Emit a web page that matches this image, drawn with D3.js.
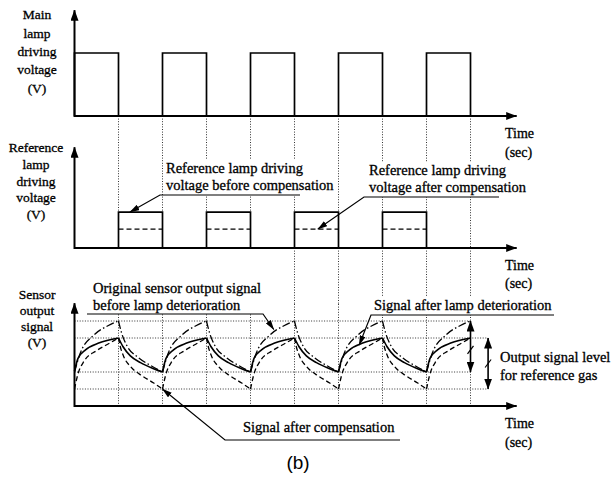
<!DOCTYPE html>
<html>
<head>
<meta charset="utf-8">
<script src="https://cdn.jsdelivr.net/npm/d3@7"></script>
<style>
  body { margin: 0; background: #fff; }
  text { font-family: "Liberation Serif", "Times New Roman", serif; fill: #000; stroke: #000; stroke-width: 0.3px; }
</style>
</head>
<body>
<script>
// time is counted in half periods of the lamp drive (one unit = lamp on or off)
var mainPulses = [[0, 1], [2, 3], [4, 5], [6, 7], [8, 9]];
var refPulses = [[1, 2], [3, 4], [5, 6], [7, 8]];
var edgeTimes = [1, 2, 3, 4, 5, 6, 7, 8, 9];
var linkedTimes = [5, 6, 7, 8, 9];      // dotted edges that run on into the sensor panel

var mainLevel = 1.0;
var refLevel = 0.57;
var refCompLevel = 0.30;

// sensor output: [time, level]
var originalSignal = [   // dash-dot
    [0, 2], [0.13, 3.1], [0.43, 4.15], [0.76, 4.72], [1, 5], [1.07, 4.3], [1.19, 3.55], [1.45, 2.85], [1.75, 2.35],
    [2, 2], [2.13, 3.1], [2.43, 4.15], [2.76, 4.72], [3, 5], [3.07, 4.3], [3.19, 3.55], [3.45, 2.85], [3.75, 2.35],
    [4, 2], [4.13, 3.1], [4.43, 4.15], [4.76, 4.72], [5, 5], [5.07, 4.3], [5.19, 3.55], [5.45, 2.85], [5.75, 2.35],
    [6, 2], [6.13, 3.1], [6.43, 4.15], [6.76, 4.72], [7, 5], [7.07, 4.3], [7.19, 3.55], [7.45, 2.85], [7.75, 2.35],
    [8, 2], [8.13, 3.1], [8.43, 4.15], [8.76, 4.72], [9, 5]
];
var deterioratedSignal = [   // solid
    [0, 2.05], [0.08, 2.8], [0.25, 3.3], [0.55, 3.7], [1, 4], [1.1, 3.5], [1.27, 2.95], [1.5, 2.55], [1.77, 2.22],
    [2, 2], [2.08, 2.8], [2.25, 3.3], [2.55, 3.7], [3, 4], [3.1, 3.5], [3.27, 2.95], [3.5, 2.55], [3.77, 2.22],
    [4, 2], [4.08, 2.8], [4.25, 3.3], [4.55, 3.7], [5, 4], [5.1, 3.5], [5.27, 2.95], [5.5, 2.55], [5.77, 2.22],
    [6, 2], [6.08, 2.8], [6.25, 3.3], [6.55, 3.7], [7, 4], [7.1, 3.5], [7.27, 2.95], [7.5, 2.55], [7.77, 2.22],
    [8, 2], [8.08, 2.8], [8.25, 3.3], [8.55, 3.7], [9, 4]
];
var compensatedSignal = [   // dashed
    [0, 1], [0.07, 1.8], [0.22, 2.65], [0.5, 3.25], [0.8, 3.7], [1, 4], [1.04, 3.5], [1.12, 2.9], [1.28, 2.3], [1.55, 1.75], [1.8, 1.35],
    [2, 1], [2.07, 1.8], [2.22, 2.65], [2.5, 3.25], [2.8, 3.7], [3, 4], [3.04, 3.5], [3.12, 2.9], [3.28, 2.3], [3.55, 1.75], [3.8, 1.35],
    [4, 1], [4.07, 1.8], [4.22, 2.65], [4.5, 3.25], [4.8, 3.7], [5, 4], [5.04, 3.5], [5.12, 2.9], [5.28, 2.3], [5.55, 1.75], [5.8, 1.35],
    [6, 1], [6.07, 1.8], [6.22, 2.65], [6.5, 3.25], [6.8, 3.7], [7, 4], [7.04, 3.5], [7.12, 2.9], [7.28, 2.3], [7.55, 1.75], [7.8, 1.35],
    [8, 1], [8.07, 1.8], [8.22, 2.65], [8.5, 3.25], [8.8, 3.7], [9, 4]
];

// dotted level lines: [level, last time]
var gridRows = [[5, 9], [4, 9.4], [2, 9], [1, 9.4]];
// output level arrows: [time, from, to, break mark]
var levelArrows = [[9, 5, 2, 3.3], [9.4, 4, 1, 2.5]];

var mainLabel = ["Main", "lamp", "driving", "voltage", "(V)"];
var refLabel = ["Reference", "lamp", "driving", "voltage", "(V)"];
var sensorLabel = ["Sensor", "output", "signal", "(V)"];
var timeLabel = ["Time", "(sec)"];

var notes = [
    {lines: ["Reference lamp driving", "voltage before compensation"], x: 166, y: 168, elbow: 160, end: 300, ly: 195, panel: "ref", tip: [1.26, refLevel]},
    {lines: ["Reference lamp driving", "voltage after compensation"], x: 369, y: 170, elbow: 364, end: 499, ly: 197, panel: "ref", tip: [5.53, refCompLevel]},
    {lines: ["Original sensor output signal", "before lamp deterioration"], x: 93, y: 288, elbow: 263, end: 87, ly: 314, panel: "sig", tip: [4.53, 4.5]},
    {lines: ["Signal after lamp deterioration"], x: 374, y: 305, elbow: 371, end: 554, ly: 315, panel: "sig", tip: [6.47, 3.59]},
    {lines: ["Signal after compensation"], x: 243, y: 427, elbow: 225, end: 400, ly: 440, panel: "sig", tip: [2, 1]}
];

var x = d3.scaleLinear().domain([0, 10]).range([74.5, 514.5]);
var yMain = d3.scaleLinear().domain([0, 1]).range([116, 53]);
var yRef = d3.scaleLinear().domain([0, 1]).range([248, 185]);
var ySig = d3.scaleLinear().domain([0, 6]).range([406, 304]);
var tEnd = 10.05;

var svg = d3.select("body").append("svg")
    .attr("width", 612)
    .attr("height", 499);

var defs = svg.append("defs");
function addHead(id, len, wid) {
    defs.append("marker")
        .attr("id", id)
        .attr("viewBox", "0 0 " + len + " " + wid)
        .attr("refX", len - 0.5)
        .attr("refY", wid / 2)
        .attr("markerUnits", "userSpaceOnUse")
        .attr("markerWidth", len)
        .attr("markerHeight", wid)
        .attr("orient", "auto-start-reverse")
        .append("path")
        .attr("d", "M0,0 L" + len + "," + (wid / 2) + " L0," + wid + " z")
        .attr("fill", "#000");
}
addHead("axisHead", 11, 8);
addHead("noteHead", 10, 6);
addHead("levelHead", 11, 8);

var dotted = {stroke: "#333", width: 1, dash: "1,1.6"};

// dotted edges between panels and sensor grid
var grid = svg.append("g");
grid.selectAll(".edge").data(edgeTimes).enter().append("line")
    .attr("x1", function (t) { return x(t); })
    .attr("x2", function (t) { return x(t); })
    .attr("y1", yMain(0))
    .attr("y2", yRef(0));
grid.selectAll(".link").data(linkedTimes).enter().append("line")
    .attr("x1", function (t) { return x(t); })
    .attr("x2", function (t) { return x(t); })
    .attr("y1", yRef(0))
    .attr("y2", ySig(6));
grid.selectAll(".vgrid").data(edgeTimes).enter().append("line")
    .attr("x1", function (t) { return x(t); })
    .attr("x2", function (t) { return x(t); })
    .attr("y1", ySig(6))
    .attr("y2", ySig(0));
grid.selectAll(".hgrid").data(gridRows).enter().append("line")
    .attr("x1", x(0))
    .attr("x2", function (d) { return x(d[1]); })
    .attr("y1", function (d) { return ySig(d[0]); })
    .attr("y2", function (d) { return ySig(d[0]); });
grid.selectAll("line")
    .attr("stroke", dotted.stroke)
    .attr("stroke-width", dotted.width)
    .attr("stroke-dasharray", dotted.dash);

// annotation texts with a white backing so the dotted lines break under them
var panelY = {ref: yRef, sig: ySig};
notes.forEach(function (n) {
    var g = svg.append("g");
    var bg = g.append("rect").attr("fill", "#fff");
    var txt = g.append("text").attr("font-size", 14.5);
    n.lines.forEach(function (s, i) {
        txt.append("tspan").attr("x", n.x).attr("y", n.y + i * 17 + 5).text(s);
    });
    var bb = txt.node().getBBox();
    bg.attr("x", bb.x - 2).attr("y", bb.y)
        .attr("width", bb.width + 4)
        .attr("height", n.ly - bb.y);
});

// pulse trains
function pulsePath(y, level) {
    return function (p) {
        return "M" + x(p[0]) + "," + y(0) + "V" + y(level) + "H" + x(p[1]) + "V" + y(0);
    };
}
svg.selectAll(".main").data(mainPulses).enter().append("path")
    .attr("d", pulsePath(yMain, mainLevel))
    .attr("fill", "none").attr("stroke", "#000").attr("stroke-width", 1.7);
svg.selectAll(".ref").data(refPulses).enter().append("path")
    .attr("d", pulsePath(yRef, refLevel))
    .attr("fill", "none").attr("stroke", "#000").attr("stroke-width", 1.7);
svg.selectAll(".refComp").data(refPulses).enter().append("line")
    .attr("x1", function (p) { return x(p[0]); })
    .attr("x2", function (p) { return x(p[1]); })
    .attr("y1", yRef(refCompLevel))
    .attr("y2", yRef(refCompLevel))
    .attr("stroke", "#000").attr("stroke-width", 1.4).attr("stroke-dasharray", "5,3");

// sensor curves, each rise and fall drawn on its own so the cusps stay sharp
function monotoneRuns(pts) {
    var runs = [], run = [pts[0]];
    for (var i = 1; i < pts.length; i++) {
        if (run.length > 1) {
            var wasUp = run[run.length - 1][1] > run[run.length - 2][1];
            var isUp = pts[i][1] > pts[i - 1][1];
            if (wasUp !== isUp) {
                runs.push(run);
                run = [pts[i - 1]];
            }
        }
        run.push(pts[i]);
    }
    runs.push(run);
    return runs;
}
var sigLine = d3.line()
    .x(function (d) { return x(d[0]); })
    .y(function (d) { return ySig(d[1]); })
    .curve(d3.curveMonotoneX);

var curves = [
    {data: compensatedSignal, dash: "5,3", width: 1.3},
    {data: originalSignal, dash: "8,2.5,1.5,2.5", width: 1.3},
    {data: deterioratedSignal, dash: null, width: 1.6}
];
curves.forEach(function (c) {
    svg.append("g").selectAll("path").data(monotoneRuns(c.data)).enter().append("path")
        .attr("d", sigLine)
        .attr("fill", "none")
        .attr("stroke", "#000")
        .attr("stroke-width", c.width)
        .attr("stroke-dasharray", c.dash);
});

// axes
[[yMain, 1.68], [yRef, 1.6], [ySig, 6.05]].forEach(function (a) {
    var y = a[0];
    svg.append("line")
        .attr("x1", x(0)).attr("y1", y(0))
        .attr("x2", x(tEnd)).attr("y2", y(0))
        .attr("stroke", "#000").attr("stroke-width", 2)
        .attr("marker-end", "url(#axisHead)");
    svg.append("line")
        .attr("x1", x(0)).attr("y1", y(0) + 1)
        .attr("x2", x(0)).attr("y2", y(a[1]))
        .attr("stroke", "#000").attr("stroke-width", 2)
        .attr("marker-end", "url(#axisHead)");
});

// leaders for the annotations
notes.forEach(function (n) {
    var y = panelY[n.panel];
    svg.append("path")
        .attr("d", "M" + n.end + "," + n.ly + "H" + n.elbow + "L" + x(n.tip[0]) + "," + y(n.tip[1]))
        .attr("fill", "none")
        .attr("stroke", "#000")
        .attr("stroke-width", 1.2)
        .attr("marker-end", "url(#noteHead)");
});

// output signal level arrows with break marks
levelArrows.forEach(function (a) {
    svg.append("line")
        .attr("x1", x(a[0])).attr("y1", ySig(a[1]))
        .attr("x2", x(a[0])).attr("y2", ySig(a[2]))
        .attr("stroke", "#000").attr("stroke-width", 1.6)
        .attr("marker-start", "url(#levelHead)")
        .attr("marker-end", "url(#levelHead)");
    svg.append("line")
        .attr("x1", x(a[0]) - 3).attr("y1", ySig(a[3]) + 4)
        .attr("x2", x(a[0]) + 3).attr("y2", ySig(a[3]) - 4)
        .attr("stroke", "#000").attr("stroke-width", 1.2);
});

// axis titles
function stack(lines, cx, cy, step, size, anchor) {
    var t = svg.append("text").attr("font-size", size).attr("text-anchor", anchor);
    lines.forEach(function (s, i) {
        t.append("tspan").attr("x", cx).attr("y", cy + i * step + size * 0.33).text(s);
    });
}
stack(mainLabel, 37, 15, 18.3, 13.5, "middle");
stack(refLabel, 36, 148, 16.6, 13.5, "middle");
stack(sensorLabel, 37, 295, 16, 13.5, "middle");
stack(timeLabel, 505, yMain(0) + 17, 19, 14, "start");
stack(timeLabel, 505, yRef(0) + 17, 18, 14, "start");
stack(timeLabel, 505, ySig(0) + 17, 19, 14, "start");
stack(["Output signal level", "for reference gas"], 500, 357, 18, 14.5, "start");

svg.append("text")
    .attr("x", 298).attr("y", 469)
    .attr("text-anchor", "middle")
    .attr("font-size", 19)
    .style("font-family", "'Liberation Sans', Arial, sans-serif")
    .style("stroke-width", "0px")
    .text("(b)");
</script>
</body>
</html>
